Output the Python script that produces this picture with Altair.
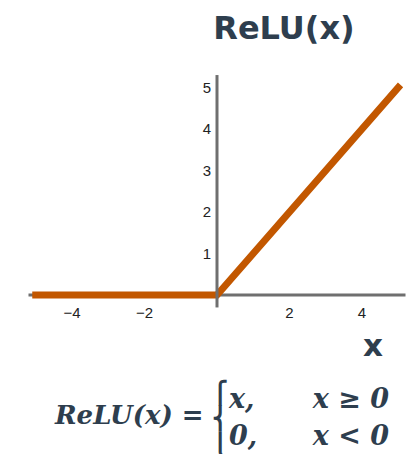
import altair as alt
import pandas as pd

# ReLU curve: x in [-5, 5]
relu_x = [-5, 0, 5]
relu_y = [0, 0, 5]

# axis extents and tick labels
x_axis_span = [-5.2, 5.2]
y_axis_span = [-0.3, 5.3]
x_ticks = [-4, -2, 2, 4]
y_ticks = [1, 2, 3, 4, 5]

title_text = "ReLU(x)"
x_title = "x"
formula_lhs = "ReLU(x) ="
formula_cases = ["x,", "0,"]
formula_conditions = ["x ≥ 0", "x < 0"]
brace_pieces = ["\u23a7", "\u23a8", "\u23a9"]  # upper hook, middle, lower hook

W, H = 408, 454
xs = alt.Scale(domain=[-5, 5], range=[35.75, 398.25])
ys = alt.Scale(domain=[0, 5], range=[295, 87.5])

AXIS_GREY = "#6f6f6f"
ORANGE = "#c25700"
SLATE = "#2e3e4e"

curve = pd.DataFrame({"x": relu_x, "y": relu_y})
h_axis = pd.DataFrame({"x0": [x_axis_span[0]], "x1": [x_axis_span[1]], "y": [0]})
v_axis = pd.DataFrame({"y0": [y_axis_span[0]], "y1": [y_axis_span[1]], "x": [0]})
xt = pd.DataFrame({"v": x_ticks, "label": [str(v).replace("-", "\u2212") for v in x_ticks]})
yt = pd.DataFrame({"v": y_ticks, "label": [str(v) for v in y_ticks]})

h_rule = alt.Chart(h_axis).mark_rule(color=AXIS_GREY, strokeWidth=3).encode(
    x=alt.X("x0:Q", scale=xs, axis=None),
    x2="x1:Q",
    y=alt.Y("y:Q", scale=ys, axis=None),
)
v_rule = alt.Chart(v_axis).mark_rule(color=AXIS_GREY, strokeWidth=3).encode(
    x=alt.X("x:Q", scale=xs, axis=None),
    y=alt.Y("y0:Q", scale=ys, axis=None),
    y2="y1:Q",
)
line = alt.Chart(curve).mark_line(
    color=ORANGE, strokeWidth=7, strokeCap="square", strokeJoin="miter"
).encode(
    x=alt.X("x:Q", scale=xs, axis=None),
    y=alt.Y("y:Q", scale=ys, axis=None),
)

tick_font = dict(font="Liberation Sans", fontSize=15, color="#222222")
x_labels = alt.Chart(xt).mark_text(align="center", baseline="middle", **tick_font).encode(
    x=alt.X("v:Q", scale=xs, axis=None),
    y=alt.value(313),
    text="label:N",
)
y_labels = alt.Chart(yt).mark_text(align="right", baseline="middle", **tick_font).encode(
    x=alt.value(211),
    y=alt.Y("v:Q", scale=ys, axis=None),
    text="label:N",
)

one = alt.Data(values=[{}])


def label(text, x, y, **kw):
    return alt.Chart(one).mark_text(text=text, **kw).encode(x=alt.value(x), y=alt.value(y))


title = label(title_text, 284, 39, font="DejaVu Sans", fontWeight="bold",
              fontSize=32, color=SLATE, align="center", baseline="alphabetic")
xlab = label(x_title, 373, 356, font="DejaVu Sans", fontWeight="bold",
             fontSize=31, color=SLATE, align="center", baseline="alphabetic")

serif = dict(font="DejaVu Serif", fontWeight="bold", fontStyle="italic",
             color=SLATE, baseline="alphabetic")
lhs = label(formula_lhs, 55, 424, align="left", fontSize=26, **serif)

# curly brace built from stacked pieces
brace_font = dict(font="DejaVu Sans", fontWeight="bold", fontSize=22, color=SLATE,
                  align="center", baseline="alphabetic")
brace = [
    label(piece, 220, base, **brace_font)
    for piece, base in zip(brace_pieces, [400, 426, 452])
]

case1 = label(formula_cases[0], 229, 408, align="left", fontSize=27, **serif)
case2 = label(formula_cases[1], 229, 445, align="left", fontSize=27, **serif)
cond1 = label(formula_conditions[0], 389, 408, align="right", fontSize=27, **serif)
cond2 = label(formula_conditions[1], 389, 445, align="right", fontSize=27, **serif)

chart = alt.layer(
    h_rule, line, v_rule, x_labels, y_labels, title, xlab,
    lhs, *brace, case1, case2, cond1, cond2,
).properties(
    width=W, height=H, padding=0,
    autosize=alt.AutoSizeParams(type="fit", contains="padding"),
).configure_view(stroke=None)

chart.save("out.html", embed_options={"renderer": "svg", "actions": False})
